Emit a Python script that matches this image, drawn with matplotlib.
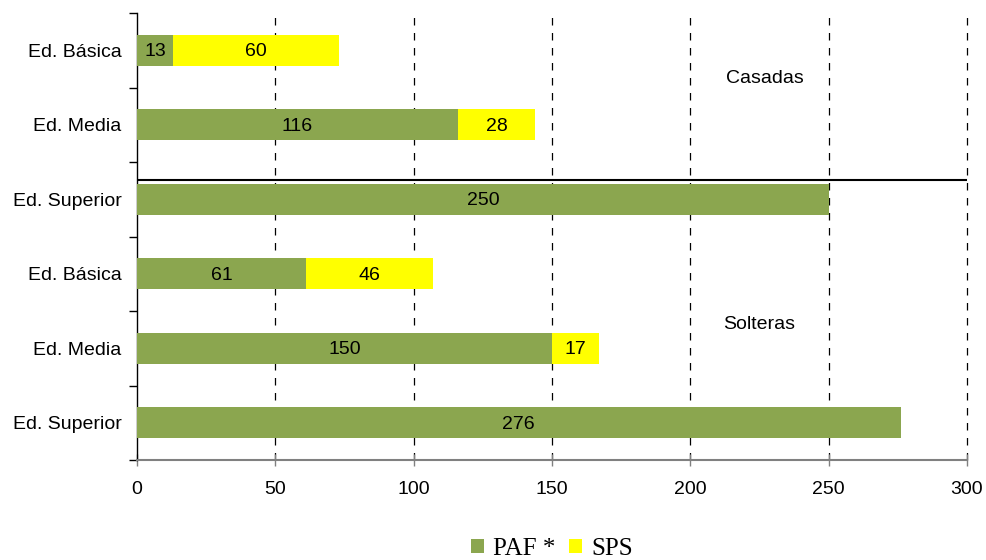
import matplotlib
matplotlib.use('Agg')
import matplotlib.pyplot as plt
import numpy as np

plt.rcParams['font.family'] = ['Liberation Sans', 'DejaVu Sans']

# categories listed top to bottom, as in the picture
categories = ['Ed. Básica', 'Ed. Media', 'Ed. Superior',
              'Ed. Básica', 'Ed. Media', 'Ed. Superior']
paf = [13, 116, 250, 61, 150, 276]
sps = [60, 28, 0, 46, 17, 0]
series_names = ['PAF *', 'SPS']
group_names = ['Casadas', 'Solteras']
x_ticks = [0, 50, 100, 150, 200, 250, 300]

green = '#8ba64f'
yellow = '#ffff00'

fig = plt.figure(figsize=(9.87, 5.6), dpi=100)
ax = fig.add_axes([137 / 987, 100 / 560, 830 / 987, 447 / 560])

n = len(categories)
y = np.arange(n)[::-1]  # first category at the top
h = 0.42

bars_paf = ax.barh(y, paf, height=h, color=green, zorder=3, label=series_names[0])
bars_sps = ax.barh(y, sps, left=paf, height=h, color=yellow, zorder=3, label=series_names[1])

# value labels, centred in each segment
for yi, p, s in zip(y, paf, sps):
    if p:
        ax.text(p / 2, yi - 0.02, str(p), ha='center', va='center', fontsize=14, zorder=4)
    if s:
        ax.text(p + s / 2, yi - 0.02, str(s), ha='center', va='center', fontsize=14, zorder=4)

ax.set_xlim(0, 300)
ax.set_ylim(-0.5, n - 0.5)

# dashed vertical gridlines
for xv in x_ticks[1:]:
    ax.axvline(xv, color='black', lw=0.9, ls=(0, (6, 6)), zorder=1, clip_on=False)

# separator between the groups
ax.axhline(3.26, color='black', lw=1.5, zorder=5)

ax.text(227, 4.62, group_names[0], ha='center', va='center', fontsize=14)
ax.text(225, 1.32, group_names[1], ha='center', va='center', fontsize=14)

# axes styling
ax.spines['top'].set_visible(False)
ax.spines['right'].set_visible(False)
ax.spines['bottom'].set_color('#808080')
ax.spines['bottom'].set_linewidth(1.5)
ax.spines['bottom'].set_zorder(6)
ax.spines['left'].set_color('black')
ax.spines['left'].set_linewidth(1.0)

ax.set_xticks(x_ticks)
ax.set_xticklabels([str(v) for v in x_ticks], fontsize=14)
ax.tick_params(axis='x', direction='inout', length=8, color='#808080', width=1, pad=11)

ax.set_yticks(y)
ax.set_yticklabels(categories, fontsize=14)
ax.set_yticks(np.arange(-0.5, n, 1.0), minor=True)
ax.tick_params(axis='y', which='major', length=0, pad=11)
ax.tick_params(axis='y', which='minor', length=6, color='black', width=1, direction='out')

leg = fig.legend(handles=[bars_paf, bars_sps], loc='center',
                 bbox_to_anchor=(552 / 987, 1 - 549 / 560), ncol=2, frameon=False,
                 prop={'family': 'Liberation Serif', 'size': 18},
                 handlelength=0.52, handleheight=0.52, handletextpad=0.36,
                 columnspacing=0.56, borderaxespad=0, borderpad=0)

fig.savefig('out.png', dpi=100)
